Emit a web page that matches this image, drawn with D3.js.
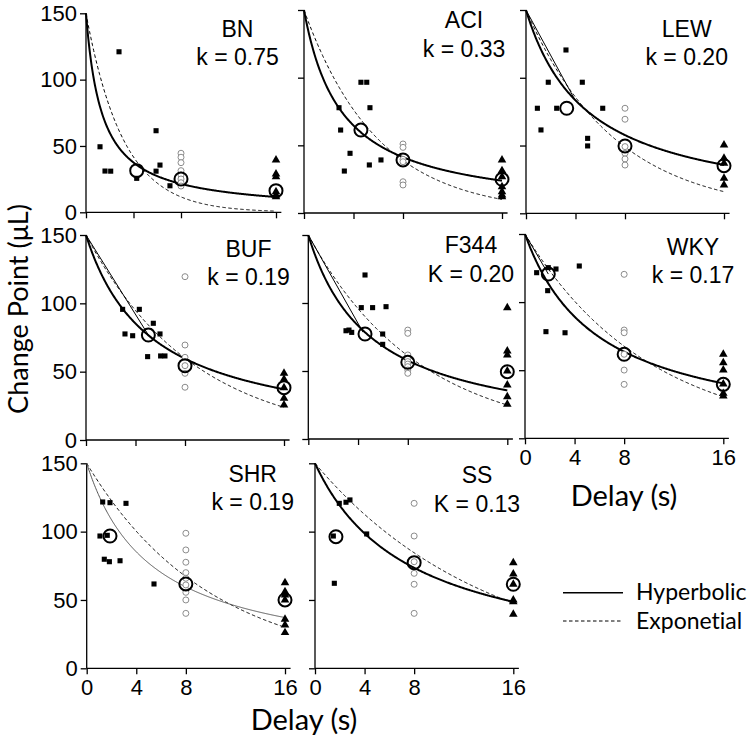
<!DOCTYPE html>
<html>
<head>
<meta charset="utf-8">
<script src="https://cdn.jsdelivr.net/npm/d3@7"></script>
<style>
  html, body { margin: 0; padding: 0; background: #fff; }
  svg { display: block; }
  text { font-variant-ligatures: none; font-feature-settings: "liga" 0; }
</style>
</head>
<body>
<svg id="chart" width="750" height="739"></svg>
<script>
// ---------------- DATA ----------------
const strains = ["BN", "ACI", "LEW", "BUF", "F344", "WKY", "SHR", "SS"];
const kLabels = ["k = 0.75", "k = 0.33", "k = 0.20", "k = 0.19", "K = 0.20", "k = 0.17", "k = 0.19", "K = 0.13"];
const kValues = [0.75, 0.33, 0.20, 0.19, 0.20, 0.17, 0.19, 0.13];
const expRates = [0.32, 0.169, 0.14, 0.1148, 0.112, 0.0996, 0.1006, 0.0717];
const startValue = 150;

const xTicks = [0, 4, 8, 16];
const yTicks = [0, 50, 100, 150];

// individual adjusting-delay points (squares): [delay, change point]
const adjustingPoints = [
  [[1.18,49.4],[1.6,31.1],[2.08,31],[2.78,121],[4.27,25.6],[5.9,61.5],[5.9,31],[6.23,35.6],[7.07,20]],
  [[2.83,77.8],[2.96,61.3],[3.26,31],[3.72,44.1],[4.6,96.6],[5.07,96.6],[5.28,35.5],[5.33,77.8],[6.22,39.2]],
  [[0.92,77.5],[1.21,61.5],[1.8,96.7],[2.48,77.5],[3.23,120.5],[4.55,96.7],[4.98,55.3],[4.98,49.7],[6.2,77.5]],
  [[2.96,95.6],[3.15,77.6],[3.77,76.3],[4.31,95.6],[4.98,61],[5.44,85.4],[5.98,77.6],[6.03,61.5],[6.38,61.5]],
  [[3.03,79.6],[3.27,80.1],[3.49,78.4],[4.26,96.6],[4.56,120.6],[5.17,96.6],[5.98,77.2],[5.98,69.6],[6.25,97.3]],
  [[0.94,121.6],[1.88,125.3],[1.83,108.4],[1.69,78.3],[2.5,124.3],[3.23,77.5],[4.38,126.5]],
  [[1.07,96.8],[1.29,121.7],[1.42,79.8],[1.83,78],[1.88,121.2],[1.66,97.3],[2.69,78.7],[3.17,120.7],[5.43,61.7]],
  [[1.96,120.7],[2.5,121.5],[2.82,123.2],[1.48,96.8],[1.56,62.2],[4.17,98.3]]
];
// individual points at 8 s delay (open circles)
const delay8Values = [
  [44.5,41.5,37.4,31.4,28.1,25.1,22.3,19.8],
  [51,48.5,39.7,37.9,23.1,20.7],
  [77.5,69.4,49.2,44.3,40.1,35.6],
  [119.5,69.5,60.5,54.4,48.8,38.6],
  [80.1,77.7,61.8,59.3,56.9,55.1,53.2,50.7,48.3],
  [120.4,79.5,77.5,61.7,50.1,39.6],
  [98.8,86.6,77.6,70,65.9,61,55.6,50,40.2],
  [120.7,96.8,78,69.5,61.5,40.2]
];
// individual points at 16 s delay (triangles)
const delay16Values = [
  [39.4,28.9,26.8,15.5,13,11.8],
  [39.2,31.3,26.8,19.4,15.7,13.3,12],
  [50.4,40.6,36.9,25.8,20.9],
  [48.8,44.4,38.3,30.5,25.6],
  [96.5,64.7,61.8,50,39.7,31.1,25.5],
  [61.7,55.5,50.1,39.9,33,31.1],
  [62.6,56,53.6,50,35.9,31.7,26.1],
  [77.3,69,61.5,50,48.7,39.5]
];
// group means (large open circles)
const meanPoints = [
  [[4.27,31.4],[8,25.1],[16,16.3]],
  [[4.6,61.3],[8,39.2],[16,24.9]],
  [[3.29,77.5],[8,49.7],[16,35.1]],
  [[5.04,76.8],[8,54.4],[16,38.3]],
  [[4.56,77.2],[8,56.4],[16,49.5]],
  [[1.88,120.6],[8,61.7],[16,39.6]],
  [[1.88,96.8],[8,61.7],[16,50]],
  [[1.69,96.3],[8,77.3],[16,61.5]]
];
// thin connector from (0,150) to this point (where present)
const connectorEnds = [null, null, [3.96,83.6], [5.04,76.8], [4.4,78.5], [1.88,120.6], null, null];

const legendLabels = ["Hyperbolic", "Exponetial"];

// ---------------- LAYOUT ----------------
const layout = [
  {l:86,    r:276,   t:13.3, b:212.3, lx:237.5, ly1:36.7,  ly2:65,    yLab:true,  xLab:false},
  {l:304,   r:502,   t:10,   b:213,   lx:464,   ly1:28.3,  ly2:56.7,  yLab:false, xLab:false},
  {l:526,   r:724,   t:10,   b:213.3, lx:686.7, ly1:36.7,  ly2:65,    yLab:false, xLab:false},
  {l:86,    r:284,   t:235,  b:440,   lx:248.5, ly1:256.7, ly2:285,   yLab:true,  xLab:false},
  {l:308.3, r:507.3, t:235,  b:439,   lx:471,   ly1:253.3, ly2:281.7, yLab:false, xLab:false},
  {l:525,   r:723.3, t:234,  b:438.3, lx:693,   ly1:255,   ly2:283.3, yLab:false, xLab:true},
  {l:86.7,  r:285,   t:463.3,b:668.3, lx:252.7, ly1:481.7, ly2:510,   yLab:true,  xLab:true},
  {l:315,   r:513.3, t:463.3,b:668.3, lx:477,   ly1:483,   ly2:511.7, yLab:false, xLab:true}
];
const thinHyperbolic = new Set(["SHR"]);

const tickFont = "'Liberation Sans', Arial, sans-serif";
const titleFont = "Lato, 'Open Sans', sans-serif";

const svg = d3.select("#chart");

strains.forEach((name, i) => {
  const L = layout[i];
  const x = d3.scaleLinear().domain([0, 16]).range([L.l, L.r]);
  const y = d3.scaleLinear().domain([0, 150]).range([L.b, L.t]);
  const g = svg.append("g");

  const xa = g.append("g").attr("transform", `translate(0,${L.b})`)
    .call(d3.axisBottom(x).tickValues(xTicks).tickSize(6).tickPadding(5)
      .tickFormat(L.xLab ? d3.format("d") : () => ""));
  xa.select(".domain").remove();
  xa.append("line").attr("x1", x(0)).attr("x2", x(16.45)).attr("y1", 0).attr("y2", 0)
    .attr("stroke", "#000").attr("stroke-width", 1.3);
  xa.selectAll(".tick line").attr("stroke", "#000").attr("stroke-width", 1.3);
  xa.selectAll(".tick text").attr("font-family", tickFont).attr("font-size", 22).attr("fill", "#000");

  const ya = g.append("g").attr("transform", `translate(${L.l},0)`)
    .call(d3.axisLeft(y).tickValues(yTicks).tickSize(6).tickPadding(3)
      .tickFormat(L.yLab ? d3.format("d") : () => ""));
  ya.select(".domain").remove();
  ya.append("line").attr("x1", 0).attr("x2", 0).attr("y1", y(0)).attr("y2", y(150))
    .attr("stroke", "#000").attr("stroke-width", 1.3);
  ya.selectAll(".tick line").attr("stroke", "#000").attr("stroke-width", 1.3);
  ya.selectAll(".tick text").attr("font-family", tickFont).attr("font-size", 22).attr("fill", "#000");

  const ds = d3.range(0, 16.0001, 0.05);
  const line = d3.line().x(d => x(d[0])).y(d => y(d[1]));
  const k = kValues[i], b = expRates[i];
  g.append("path")
    .attr("d", line(ds.map(d => [d, startValue * Math.exp(-b * d)])))
    .attr("fill", "none").attr("stroke", "#000").attr("stroke-width", 1)
    .attr("stroke-dasharray", "3.5,2.5");
  const thin = thinHyperbolic.has(name);
  g.append("path")
    .attr("d", line(ds.map(d => [d, startValue / (1 + k * d)])))
    .attr("fill", "none").attr("stroke", thin ? "#555" : "#000")
    .attr("stroke-width", thin ? 1 : 2);
  if (connectorEnds[i]) {
    g.append("path")
      .attr("d", line([[0, startValue], connectorEnds[i]]))
      .attr("fill", "none").attr("stroke", "#000").attr("stroke-width", 1);
  }

  const sq = d3.symbol().type(d3.symbolSquare).size(26);
  g.selectAll(".sq").data(adjustingPoints[i]).join("path")
    .attr("transform", d => `translate(${x(d[0])},${y(d[1])})`)
    .attr("d", sq).attr("fill", "#000");

  g.selectAll(".c8").data(delay8Values[i]).join("circle")
    .attr("cx", x(8)).attr("cy", d => y(d)).attr("r", 3)
    .attr("fill", "#fff").attr("stroke", "#8c8c8c").attr("stroke-width", 1);

  const tri = d3.symbol().type(d3.symbolTriangle).size(32);
  g.selectAll(".t16").data(delay16Values[i]).join("path")
    .attr("transform", d => `translate(${x(16)},${y(d)})`)
    .attr("d", tri).attr("fill", "#000");

  g.selectAll(".mean").data(meanPoints[i]).join("circle")
    .attr("cx", d => x(d[0])).attr("cy", d => y(d[1])).attr("r", 6.5)
    .attr("fill", "none").attr("stroke", "#000").attr("stroke-width", 2);

  g.append("text").attr("x", L.lx).attr("y", L.ly1).attr("text-anchor", "middle")
    .attr("font-family", tickFont).attr("font-size", 23).attr("fill", "#000").text(name);
  g.append("text").attr("x", L.lx).attr("y", L.ly2).attr("text-anchor", "middle")
    .attr("font-family", tickFont).attr("font-size", 23).attr("fill", "#000").text(kLabels[i]);
});

svg.append("text").attr("transform", "translate(28,309) rotate(-90)")
  .attr("text-anchor", "middle").attr("font-family", titleFont).attr("font-size", 27)
  .attr("fill", "#000").text("Change Point (μL)");
svg.append("text").attr("x", 304).attr("y", 730).attr("text-anchor", "middle")
  .attr("font-family", titleFont).attr("font-size", 29).attr("fill", "#000").text("Delay (s)");
svg.append("text").attr("x", 624).attr("y", 506).attr("text-anchor", "middle")
  .attr("font-family", titleFont).attr("font-size", 29).attr("fill", "#000").text("Delay (s)");

const leg = svg.append("g");
legendLabels.forEach((lab, j) => {
  const yy = 592.7 + j * 28.3;
  leg.append("line").attr("x1", 563).attr("x2", 623).attr("y1", yy).attr("y2", yy)
    .attr("stroke", "#000").attr("stroke-width", j === 0 ? 1.5 : 1)
    .attr("stroke-dasharray", j === 0 ? null : "3.5,2.5");
  leg.append("text").attr("x", 636).attr("y", yy + 7.5)
    .attr("font-family", titleFont).attr("font-size", 23).attr("fill", "#000").text(lab);
});
</script>
</body>
</html>
